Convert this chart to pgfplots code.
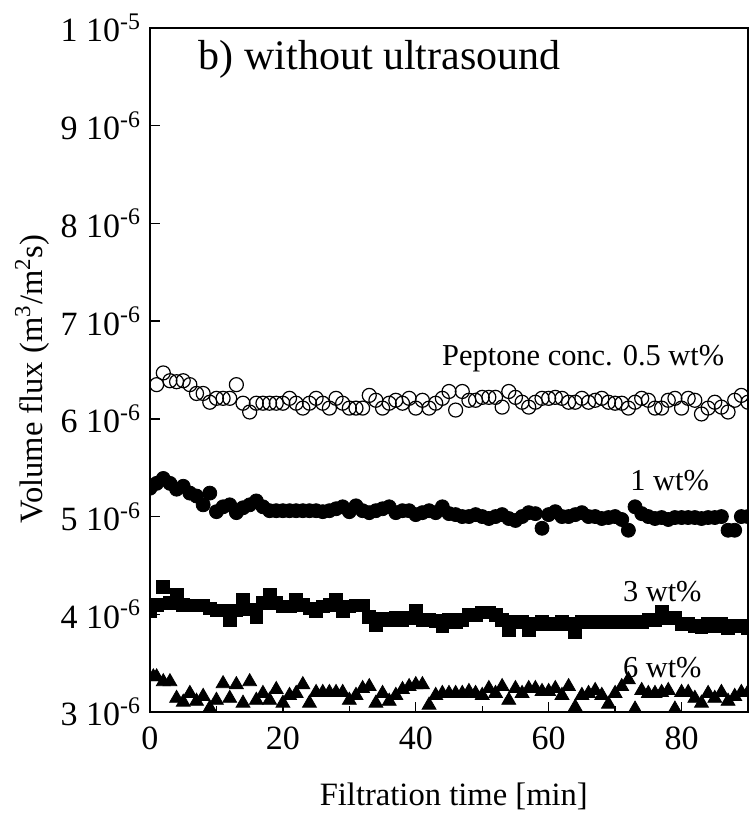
\documentclass[border=0pt]{standalone}
\usepackage{pgfplots}
\pgfplotsset{compat=1.18}
\usepackage{fontspec}
\setmainfont{Liberation Serif}
\begin{document}
\begin{tikzpicture}
\begin{axis}[
  name=ax,
  scale only axis=true,
  width=299pt, height=342pt,
  xmin=0, xmax=90, ymin=3, ymax=10,
  xtick={0,20,40,60,80},
  minor xtick={10,30,50,70},
  ytick={3,4,5,6,7,8,9,10},
  yticklabels={3 10\textsuperscript{-6},4 10\textsuperscript{-6},5 10\textsuperscript{-6},6 10\textsuperscript{-6},7 10\textsuperscript{-6},8 10\textsuperscript{-6},9 10\textsuperscript{-6},1 10\textsuperscript{-5}},
  xtick pos=left, ytick pos=left,
  tick align=inside,
  major tick length=5pt, minor tick length=3pt,
  axis line style={line width=0.8pt},
  every tick/.style={line width=0.7pt},
  /pgf/number format/assume math mode=true,
  tick label style={font=\fontsize{17}{20}\selectfont},
  xticklabel style={yshift=-4pt},
  yticklabel style={xshift=-1pt},
  xlabel={Filtration time [min]},
  ylabel={Volume flux (m\textsuperscript{3}/m\textsuperscript{2}s)},
  label style={font=\fontsize{16.3}{19}\selectfont},
  xlabel style={at={(axis description cs:0.508,-0.124)}, anchor=center},
  ylabel style={at={(axis description cs:-0.197,0.487)}, anchor=center},
  clip marker paths=true,
]
% 0.5 wt% (open circles)
\addplot[only marks, mark=o, mark size=3.5pt, mark options={fill=white, line width=0.6pt}] coordinates {
(1,6.35)(2,6.47)(3,6.39)(4,6.38)(5,6.39)(6,6.35)(7,6.26)(8,6.26)(9,6.17)(10,6.21)
(11,6.21)(12,6.21)(13,6.35)(14,6.16)(15,6.07)(16,6.16)(17,6.16)(18,6.16)(19,6.16)(20,6.16)
(21,6.21)(22,6.16)(23,6.11)(24,6.16)(25,6.21)(26,6.16)(27,6.11)(28,6.21)(29,6.16)(30,6.11)
(31,6.11)(32,6.11)(33,6.24)(34,6.19)(35,6.11)(36,6.16)(37,6.19)(38,6.16)(39,6.21)(40,6.11)
(41,6.19)(42,6.11)(43,6.16)(44,6.21)(45,6.28)(46,6.09)(47,6.28)(48,6.19)(49,6.19)(50,6.22)
(51,6.22)(52,6.22)(53,6.12)(54,6.28)(55,6.22)(56,6.17)(57,6.12)(58,6.17)(59,6.21)(60,6.21)
(61,6.22)(62,6.21)(63,6.17)(64,6.17)(65,6.21)(66,6.17)(67,6.19)(68,6.21)(69,6.17)(70,6.16)
(71,6.16)(72,6.11)(73,6.17)(74,6.21)(75,6.19)(76,6.11)(77,6.11)(78,6.19)(79,6.21)(80,6.11)
(81,6.21)(82,6.19)(83,6.05)(84,6.11)(85,6.17)(86,6.12)(87,6.07)(88,6.19)(89,6.24)(90,6.17)
};
% 1 wt% (filled circles)
\addplot[only marks, mark=*, mark size=3.5pt, mark options={fill=black, draw=black}] coordinates {
(0,5.29)(1,5.34)(2,5.39)(3,5.34)(4,5.28)(5,5.31)(6,5.24)(7,5.21)(8,5.12)(9,5.24)
(10,5.05)(11,5.10)(12,5.12)(13,5.04)(14,5.09)(15,5.12)(16,5.16)(17,5.10)(18,5.06)(19,5.06)
(20,5.06)(21,5.06)(22,5.06)(23,5.06)(24,5.06)(25,5.06)(26,5.05)(27,5.06)(28,5.08)(29,5.10)
(30,5.05)(31,5.11)(32,5.06)(33,5.04)(34,5.06)(35,5.08)(36,5.10)(37,5.04)(38,5.06)(39,5.06)
(40,5.02)(41,5.04)(42,5.06)(43,5.04)(44,5.10)(45,5.03)(46,5.02)(47,5.00)(48,5.00)(49,5.02)
(50,5.00)(51,4.98)(52,5.00)(53,5.02)(54,4.98)(55,4.96)(56,5.00)(57,5.04)(58,5.03)(59,4.88)
(60,5.02)(61,5.05)(62,5.00)(63,5.00)(64,5.02)(65,5.04)(66,5.00)(67,5.00)(68,4.98)(69,4.99)
(70,5.00)(71,4.97)(72,4.86)(73,5.10)(74,5.03)(75,5.00)(76,4.98)(77,4.99)(78,4.97)(79,4.99)
(80,4.99)(81,4.99)(82,4.99)(83,4.98)(84,4.99)(85,4.99)(86,5.00)(87,4.86)(88,4.86)(89,5.00)(90,5.00)
};
% 3 wt% (filled squares)
\addplot[only marks, mark=square*, mark size=3.2pt, mark options={fill=black, draw=black}] coordinates {
(0,4.03)(1,4.10)(2,4.28)(3,4.12)(4,4.20)(5,4.10)(6,4.09)(7,4.09)(8,4.09)(9,4.06)
(10,4.04)(11,4.04)(12,3.94)(13,4.04)(14,4.15)(15,4.05)(16,3.97)(17,4.12)(18,4.20)(19,4.12)
(20,4.08)(21,4.08)(22,4.15)(23,4.10)(24,4.06)(25,4.03)(26,4.08)(27,4.10)(28,4.15)(29,4.03)
(30,4.08)(31,4.09)(32,4.09)(33,3.97)(34,3.89)(35,3.95)(36,3.94)(37,3.96)(38,3.94)(39,3.96)
(40,4.04)(41,3.94)(42,3.94)(43,3.93)(44,3.88)(45,3.94)(46,3.92)(47,3.94)(48,3.99)(49,3.99)
(50,4.02)(51,4.02)(52,3.99)(53,3.94)(54,3.84)(55,3.92)(56,3.92)(57,3.84)(58,3.90)(59,3.92)
(60,3.90)(61,3.90)(62,3.92)(63,3.90)(64,3.82)(65,3.92)(66,3.92)(67,3.92)(68,3.92)(69,3.92)
(70,3.92)(71,3.92)(72,3.92)(73,3.92)(74,3.92)(75,3.94)(76,3.94)(77,4.03)(78,3.96)(79,3.96)
(80,3.90)(81,3.90)(82,3.88)(83,3.87)(84,3.90)(85,3.88)(86,3.90)(87,3.86)(88,3.88)(89,3.88)(90,3.86)
};
% 6 wt% (filled triangles)
\addplot[only marks, mark=triangle*, mark size=4pt, mark options={fill=black, draw=black}] coordinates {
(0.5,3.36)(1,3.36)(2,3.31)(3,3.31)(4,3.14)(5,3.10)(6,3.19)(7,3.11)(8,3.16)(9,3.04)
(10,3.12)(11,3.29)(12,3.14)(13,3.28)(14,3.09)(15,3.31)(16,3.12)(17,3.19)(18,3.12)(19,3.23)
(20,3.09)(21,3.17)(22,3.19)(23,3.28)(24,3.09)(25,3.20)(26,3.20)(27,3.20)(28,3.20)(29,3.20)
(30,3.12)(31,3.17)(32,3.24)(33,3.26)(34,3.09)(35,3.19)(36,3.11)(37,3.17)(38,3.23)(39,3.26)
(40,3.28)(41,3.28)(42,3.07)(43,3.17)(44,3.19)(45,3.19)(46,3.19)(47,3.19)(48,3.21)(49,3.19)
(50,3.17)(51,3.24)(52,3.19)(53,3.26)(54,3.12)(55,3.24)(56,3.19)(57,3.24)(58,3.24)(59,3.21)
(60,3.21)(61,3.24)(62,3.17)(63,3.26)(64,3.05)(65,3.17)(66,3.19)(67,3.22)(68,3.17)(69,3.08)
(70,3.19)(71,3.26)(72,3.33)(73,3.03)(74,3.22)(75,3.19)(76,3.19)(77,3.20)(78,3.22)(79,3.03)
(80,3.20)(81,3.20)(82,3.14)(83,3.09)(84,3.19)(85,3.14)(86,3.20)(87,3.11)(88,3.16)(89,3.20)(90,3.20)
};
\node[anchor=west, font=\fontsize{21}{24}\selectfont] at (axis cs:6.3,9.68) {b) without ultrasound};
\node[font=\fontsize{15.2}{18}\selectfont] at (axis cs:65.2,6.62) {Peptone conc. 0.5 wt\%};
\node[font=\fontsize{15.2}{18}\selectfont] at (axis cs:78.2,5.37) {1 wt\%};
\node[font=\fontsize{15.2}{18}\selectfont] at (axis cs:77.1,4.23) {3 wt\%};
\node[font=\fontsize{15.2}{18}\selectfont] at (axis cs:77.1,3.45) {6 wt\%};
\end{axis}
\pgfresetboundingbox
\path ([xshift=-75pt,yshift=-53pt]ax.south west) rectangle ([xshift=2.5pt,yshift=14pt]ax.north east);
\end{tikzpicture}
\end{document}
